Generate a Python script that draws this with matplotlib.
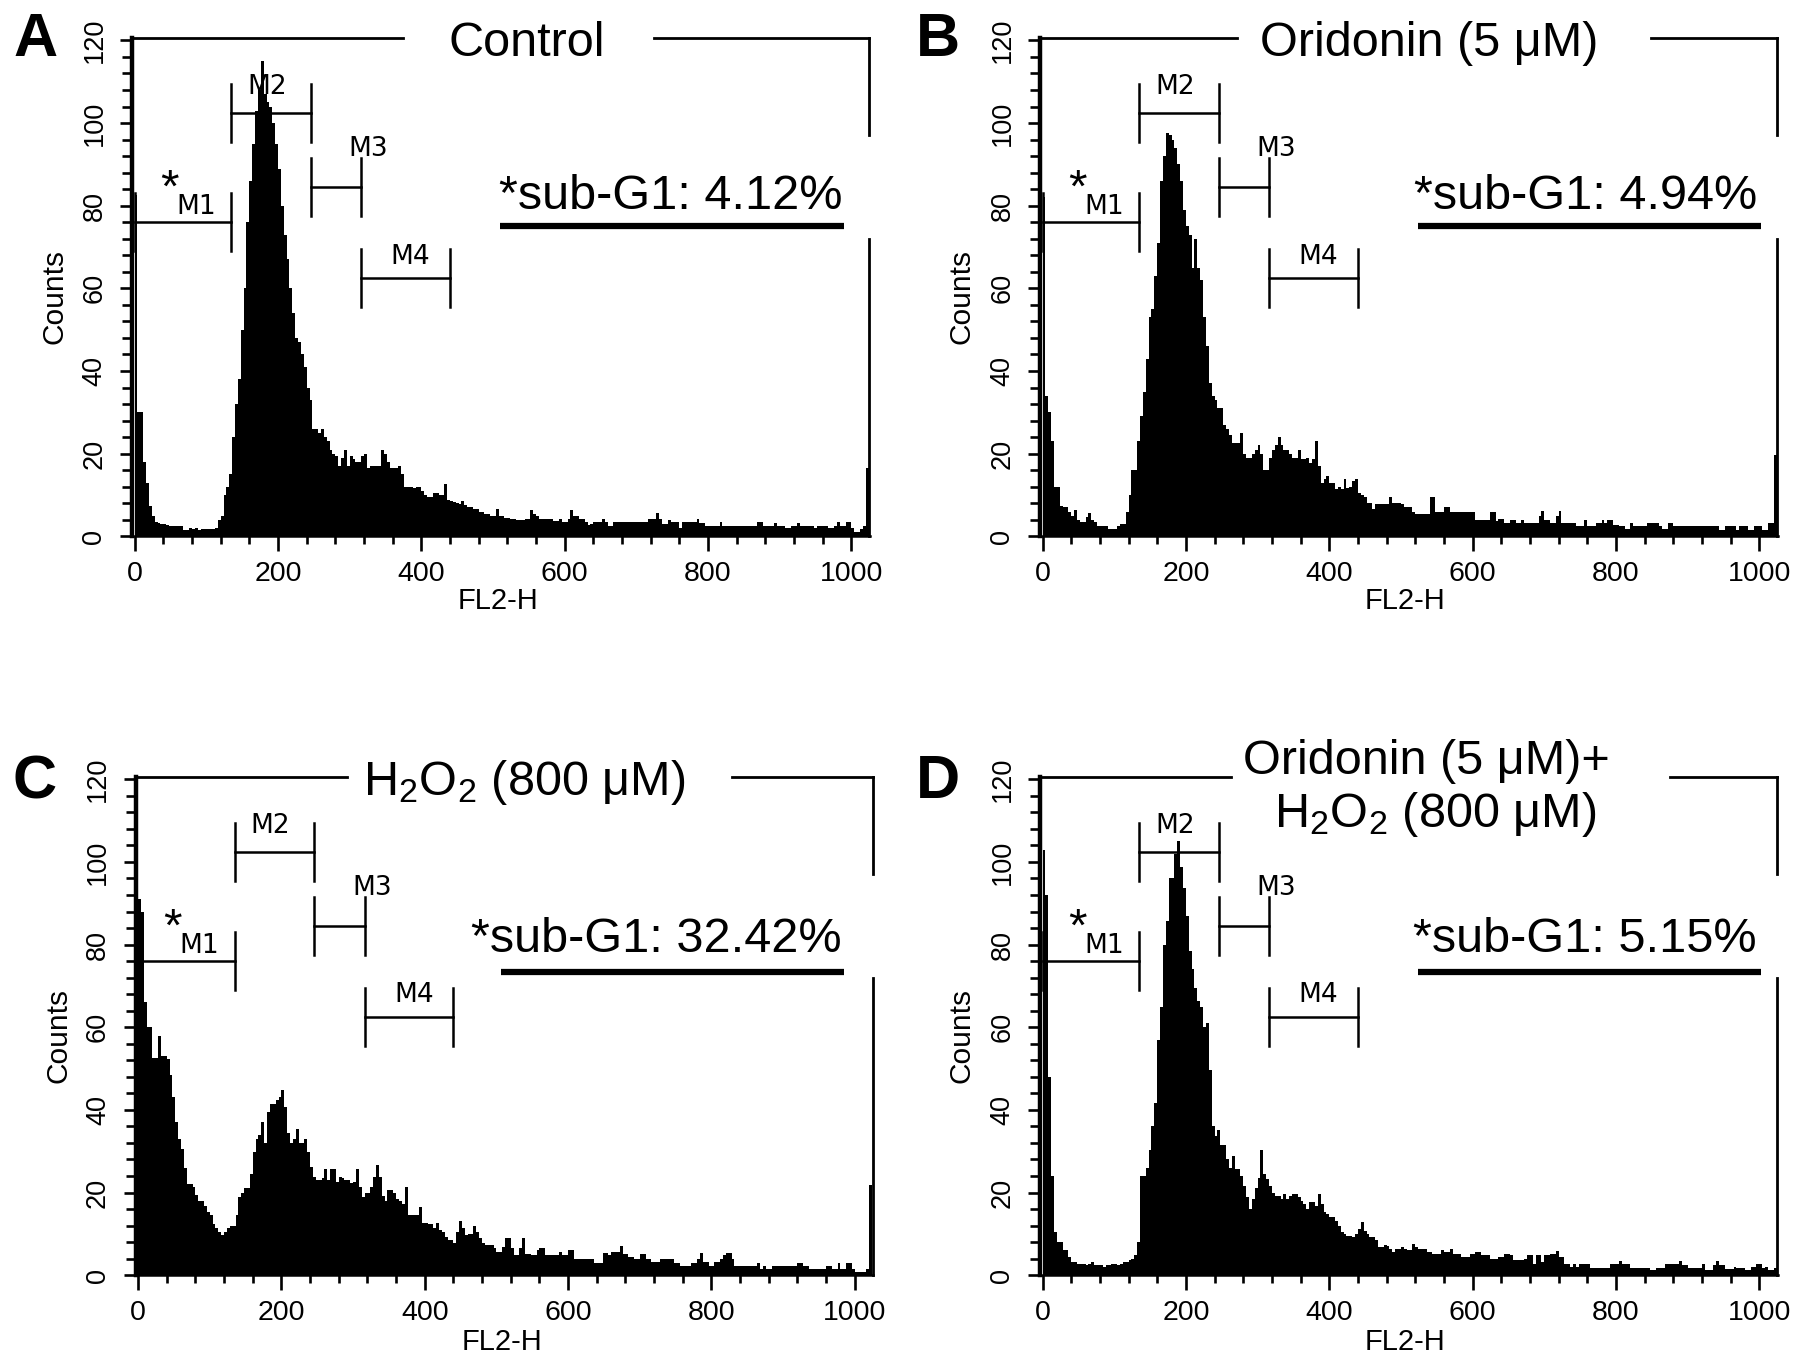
import numpy as np
import matplotlib
matplotlib.use('Agg')
import matplotlib.pyplot as plt

plt.rcParams['font.family'] = ['Liberation Sans', 'DejaVu Sans']
plt.rcParams['mathtext.fontset'] = 'custom'
plt.rcParams['mathtext.rm'] = 'Liberation Sans'
plt.rcParams['mathtext.it'] = 'Liberation Sans:italic'
plt.rcParams['mathtext.bf'] = 'Liberation Sans:bold'

# FL2-H histograms, counts per 4-channel bin (channels 0..1023)
control = [
    82.6, 30, 30, 18, 13, 7.4, 5, 3.5, 3.2, 3, 3, 2.8, 2.6, 2.6, 2.4, 2.6,
    2.4, 1.6, 1.6, 2, 1.8, 2, 1.6, 1.8, 1.8, 1.8, 1.8, 1.8, 2, 4, 5, 10,
    12, 15, 24, 32, 38, 50, 60, 76, 86, 95, 103, 108, 115, 107, 105, 104,
    100, 95, 89, 80, 73, 67, 60, 54, 48, 47, 44, 41, 36, 33, 26, 26,
    25, 26, 24, 23, 21, 20, 19.5, 17, 19, 21, 17, 19.5, 18.7, 18, 18, 19.5,
    20, 16.5, 17, 17, 17, 17, 21, 20, 18, 16.5, 16.5, 16.5, 17, 15, 12, 12,
    12, 11.7, 12, 12, 11, 10, 9.6, 9.6, 10.4, 10.4, 10, 10, 12.6, 8.7, 8.5, 8.2,
    8, 7.8, 8.5, 7.5, 7, 7, 6.5, 6.5, 6, 6, 5.5, 5.5, 5, 5, 6.5, 5,
    4.8, 4.5, 4.5, 4.2, 4.2, 4, 4, 4, 4.2, 4.2, 6.3, 5.5, 5, 4.3, 4.3, 4.3,
    4.3, 4.3, 3.8, 3.8, 4.2, 3.4, 3.4, 4.3, 6.4, 5, 5, 4.2, 4.2, 3.4, 2.7, 3,
    3.4, 3.4, 3.4, 4.2, 3.4, 2.6, 2.6, 3.4, 3.4, 3.4, 3.4, 3.4, 3.4, 3.4, 3.4, 3.4,
    3.4, 3.4, 3.4, 4.2, 4.2, 4.2, 5.6, 4.2, 3, 3, 4, 3.4, 3.4, 3.4, 1.9, 3.4,
    3.5, 3.5, 3.5, 3.5, 4.2, 3.2, 3.2, 2.6, 2.6, 2.6, 2.6, 2.6, 3.4, 2.6, 2.6, 2.6,
    2.6, 2.6, 2.6, 2.6, 2.6, 2.6, 2.6, 2.6, 2.6, 3.4, 3.4, 2.6, 2.6, 2.6, 2.6, 3.2,
    2.6, 2.6, 2.6, 1.9, 1.9, 2.6, 2.6, 3.2, 2.6, 2.6, 2.6, 2.6, 2.6, 1.9, 2.6, 2.6,
    2.6, 2.6, 1.9, 1.9, 2.6, 3.4, 2.6, 2.6, 3.4, 3.4, 1.9, 1.1, 1.1, 1.8, 2.6, 16.6,
]

oridonin = [
    82, 34, 30, 23, 12, 12, 7.4, 7, 7, 6, 5, 6.4, 4, 3.4, 3.4, 4.6,
    5.6, 4, 3.4, 2.6, 2.6, 2.6, 2.6, 1.8, 1.8, 1.8, 2.4, 3, 3, 5.8, 10, 16,
    16, 23, 29, 35, 43, 53, 55, 63, 71, 86, 92, 97.6, 97, 96, 94, 90,
    86, 79, 75, 73, 65, 72, 65, 62, 53, 46, 37, 34, 33, 31, 31, 27,
    26, 24.6, 22.6, 22.6, 22.6, 25, 20, 19, 19, 20, 21, 22, 20, 16, 16, 19,
    21, 22, 24, 22, 21, 21, 20, 19, 19, 21, 18.6, 18.6, 19, 17.8, 18.6, 23,
    17, 13, 13.8, 14.6, 13, 13, 11.4, 12, 11.4, 13.8, 11.8, 12, 13.4, 13.8, 10.6, 10,
    9.4, 8, 8, 6.6, 7.8, 7.8, 7.8, 7.8, 7.8, 9.4, 8, 8, 8, 7.8, 7, 7,
    7, 5.8, 5.4, 5.4, 5.4, 5.4, 5.4, 9.4, 9.4, 6, 6, 6, 7, 7, 5.8, 5.8,
    5.8, 5.8, 6, 6, 6, 6, 6, 4, 4, 4, 4, 4, 5.8, 5.8, 3.8, 4.2,
    4.2, 3.2, 3.2, 4, 4, 3.2, 3.2, 4, 3.2, 3.2, 3.2, 3.2, 3.2, 4.8, 6.2, 4,
    4, 3.2, 3.2, 4.8, 6.2, 3.2, 3.2, 3.2, 3.2, 3.2, 2.4, 2.4, 2.4, 4, 2.6, 2.6,
    2.6, 3.2, 3.2, 4, 3.2, 4, 4, 2.8, 2.8, 2.4, 2.4, 1.8, 1.8, 3.2, 2.4, 2.4,
    2.4, 2.4, 2.4, 3.2, 3.2, 3.2, 3.2, 2.6, 1.8, 1.8, 3.2, 3.2, 2.4, 2.4, 2.4, 2.4,
    2.4, 2.4, 2.4, 2.4, 2.4, 2.4, 2.4, 2.4, 2.4, 2.4, 2.4, 2.4, 1.6, 1.6, 2.4, 2.4,
    2.4, 2.4, 1.6, 2.4, 2.4, 2.4, 1.6, 1.6, 2.4, 2.4, 2.4, 1.6, 1.6, 3.2, 3.2, 19.6,
]

h2o2 = [
    91, 88, 66, 60, 60, 52.6, 52.6, 58, 53, 53, 52.4, 48.5, 43, 37, 33, 30.6,
    26, 22, 22, 21.4, 19.4, 18, 18, 16.8, 15.3, 14.5, 12.5, 11.3, 10.5, 9.8, 10.5, 11.3,
    12, 12, 14.5, 19, 20, 21, 21, 24.6, 29.8, 33, 33.9, 37, 31.9, 39.5, 41.5, 41.5,
    42.3, 43, 44.8, 40.7, 34.3, 31.9, 33, 35.3, 31.9, 31.9, 33, 29.8, 26.2, 23.8, 23, 23,
    23.4, 25.8, 23, 25.8, 25.8, 22.6, 23.8, 23.4, 23, 23, 22.2, 22.6, 25.8, 21.4, 19, 20,
    20, 21.4, 23.8, 26.6, 23.8, 19.2, 18, 20.6, 20.6, 19.8, 18.5, 18, 17.3, 21.4, 14.5, 14.5,
    14.5, 14.5, 16.5, 12.7, 12.7, 12.5, 12.5, 11.3, 12.7, 10.9, 10.5, 9.3, 8.5, 8.5, 7.7, 10.5,
    13.1, 11.3, 9.7, 10, 10, 12, 10.5, 8.9, 7.7, 7.3, 7.3, 7.3, 6.5, 5.6, 5.6, 6.9,
    8.9, 8.9, 6.5, 4.8, 4.8, 6.5, 8.9, 5.2, 5.2, 4.8, 4.8, 6, 6.5, 6.5, 4.8, 4.8,
    4.8, 4.8, 4.8, 5.6, 4.8, 4.8, 6.2, 6.2, 3.8, 3.8, 4, 4, 4, 4, 4, 3,
    3, 3, 5.4, 5.4, 4.8, 5.6, 5.6, 5.6, 7, 5.2, 5.2, 4.4, 4.4, 4, 4, 5.2,
    5.2, 3.8, 3.8, 3.2, 3.2, 3.2, 4, 4, 4, 4, 4, 3, 3, 2.2, 2.2, 2.2,
    2.2, 3, 3, 4, 5.4, 3.2, 3.2, 2.2, 2.2, 3.2, 3.2, 4, 4.8, 5.4, 5.4, 4,
    2.2, 2.2, 2.2, 2.2, 2.2, 2.2, 2.2, 2.2, 3, 1.6, 2.2, 1.6, 1.6, 2.2, 2.2, 2.2,
    2.2, 2.2, 2.2, 2.2, 2.2, 2.2, 3, 3, 2.2, 2.2, 1.6, 1.6, 1.6, 1.6, 1.6, 1.6,
    2.2, 2.2, 1.6, 1.6, 3, 1.6, 1.6, 3, 3, 1.6, 0.8, 0.8, 0.8, 0.8, 1.6, 21.8,
]

oridonin_h2o2 = [
    103, 92, 48, 24, 10.4, 8, 8, 6, 6, 4.4, 3.2, 3.2, 2.8, 2.8, 2.8, 2.4,
    2.8, 3.2, 2.4, 2.4, 2.4, 2, 2.4, 2.4, 2.6, 2.6, 2.4, 2.6, 3.2, 3.2, 3.6, 4,
    5, 8, 24, 24, 26, 30.4, 36, 41.6, 56.8, 64.8, 80, 85.6, 96, 96, 102, 105,
    98.8, 93.6, 86.8, 78.4, 74, 69.6, 66.4, 64.8, 60, 61, 49.6, 36, 33.6, 35.2, 31.6, 31.6,
    28, 26, 28.8, 25.6, 25.6, 24, 21.6, 18.8, 16, 18.4, 21, 23.6, 30.4, 24.4, 23.2, 21.6,
    20, 19.2, 19.2, 18.4, 19.6, 18.4, 19.2, 19.6, 19.6, 18.8, 18, 17.2, 16, 17.6, 17.6, 16.8,
    19.6, 17.2, 15.2, 14.8, 14, 14, 13.2, 12, 10.4, 10, 9.6, 9.6, 9.2, 10, 11.2, 12.8,
    10.8, 10, 9.2, 9.2, 8.4, 6.8, 6.8, 7.2, 7, 6.4, 5.6, 6.4, 6.4, 6.8, 6.4, 6,
    6, 7.6, 6.8, 6.4, 6.4, 6.4, 5.6, 5.6, 5.2, 5.2, 5.2, 6, 5.6, 5.6, 6.4, 5.2,
    5.2, 5.2, 4.4, 4.4, 4.4, 5.2, 5.2, 5.6, 5.6, 4.8, 4.8, 4.8, 4, 4, 4, 4.4,
    4.4, 5.2, 5.2, 4.8, 3.6, 3.6, 3.6, 3.6, 4, 5, 5, 2.8, 4.8, 4.8, 3.2, 4.8,
    4.8, 5.2, 5.2, 5.8, 4.4, 4.4, 2.8, 2.8, 2, 2.8, 2, 2.6, 2.6, 2.6, 2.6, 1.8,
    1.8, 1.8, 1.8, 1.8, 1.8, 1.8, 2.6, 2.6, 2.6, 3.4, 2.6, 2.6, 2.6, 1.8, 1.8, 1.8,
    1.8, 1.8, 1.8, 1.8, 1.2, 1.2, 1.8, 1.8, 1.8, 2.6, 2.6, 2.6, 2.6, 2.6, 3.4, 2.4,
    2.4, 1.8, 1.8, 1.8, 1.8, 1.8, 2.6, 1.2, 1.2, 1.2, 2.4, 3.4, 2.4, 2.4, 1.6, 1.6,
    1.6, 2, 1.8, 1.8, 1.8, 1.2, 1.2, 2, 2, 2.6, 2.6, 1.8, 2, 1.2, 1.2, 1.8,
]

histograms = [control, oridonin, h2o2, oridonin_h2o2]
letters = ['A', 'B', 'C', 'D']
titles = [['Control'], ['Oridonin (5 μM)'], [r'H$_2$O$_2$ (800 μM)'],
          ['Oridonin (5 μM)+', r'H$_2$O$_2$ (800 μM)']]
subg1 = ['*sub-G1: 4.12%', '*sub-G1: 4.94%', '*sub-G1: 32.42%', '*sub-G1: 5.15%']

# CellQuest markers M1-M4 (FL2-H range and bar height)
gate_names = ['M1', 'M2', 'M3', 'M4']
gate_start = [0, 135, 246, 316]
gate_end = [135, 246, 316, 440]
gate_level = [76, 102.5, 84.5, 62.5]

# layout
rects = [[0.0738, 0.6071, 0.4109, 0.3648], [0.5796, 0.6071, 0.4109, 0.3648],
         [0.0757, 0.0658, 0.4109, 0.3648], [0.5796, 0.0658, 0.4109, 0.3648]]
title_gap = [(374, 724), (271, 849), (292, 828), (263, 876)]
title_x = [547, 540, 539, 536]
sub_x = [748, 757, 723, 757]
sub_y = [79.1, 79.1, 78.3, 78.3]
line_x = [(510, 989), (524, 1003), (506, 985), (524, 1003)]
line_y = [75.2, 75.2, 73.3, 73.3]
letter_pos = [(0.0199, 0.9705), (0.5224, 0.9705), (0.0192, 0.4266), (0.5224, 0.4266)]
xlab_pos = [(0.2776, 0.5599), (0.7827, 0.5599), (0.2795, 0.0169), (0.7827, 0.0169)]
ylab_pos = [(0.0301, 0.7825), (0.5359, 0.7825), (0.0327, 0.2411), (0.5359, 0.2411)]

label_x = [86, 185, 326, 385]
label_y = [78, 107, 92, 66]

top = 120.5
right = 1025
edges = np.arange(0, 1025, 4)

fig = plt.figure(figsize=(17.95, 13.65), dpi=100)

for k in range(4):
    ax = fig.add_axes(rects[k])
    ax.stairs(histograms[k], edges, fill=True, color='black', linewidth=0)
    ax.set_xlim(-3, right + 1)
    ax.set_ylim(0, top)

    for s in ['top', 'right']:
        ax.spines[s].set_visible(False)
    ax.spines['left'].set_linewidth(3.2)
    ax.spines['bottom'].set_linewidth(1.8)

    ax.set_xticks(range(0, 1001, 200))
    ax.set_xticks(range(0, 1021, 40), minor=True)
    ax.set_yticks(range(0, 121, 20))
    ax.set_yticks(range(0, 121, 4), minor=True)
    ax.tick_params(axis='x', which='major', length=11, width=1.9, pad=7, labelsize=20.5)
    ax.tick_params(axis='x', which='minor', length=5.5, width=1.9)
    ax.tick_params(axis='y', which='major', length=9, width=1.9, pad=9, labelsize=19.5,
                   labelrotation=90)
    ax.tick_params(axis='y', which='minor', length=7, width=1.9)
    for lab in ax.get_yticklabels():
        lab.set_va('center')

    # frame with gaps for the title and the sub-G1 text
    g0, g1 = title_gap[k]
    ax.plot([-3, g0], [top, top], color='black', lw=2, clip_on=False)
    ax.plot([g1, right], [top, top], color='black', lw=2, clip_on=False)
    ax.plot([right, right], [top, 97], color='black', lw=2, clip_on=False)
    ax.plot([right, right], [72, 0], color='black', lw=2, clip_on=False)

    if len(titles[k]) == 1:
        ax.text(title_x[k], top - 4.2, titles[k][0], ha='center', va='baseline',
                fontsize=35)
    else:
        ax.text(title_x[k], 121.4, titles[k][0], ha='center', va='baseline',
                fontsize=35, clip_on=False)
        ax.text(title_x[k] + 12, 108.4, titles[k][1], ha='center', va='baseline',
                fontsize=35)

    ax.text(sub_x[k], sub_y[k], subg1[k], ha='center', va='baseline', fontsize=35)
    ax.plot(line_x[k], [line_y[k], line_y[k]], color='black', lw=4.5,
            solid_capstyle='butt')

    # markers
    for g in range(4):
        s, e, lv = gate_start[g], gate_end[g], gate_level[g]
        ax.plot([s, e], [lv, lv], color='black', lw=1.8)
        ax.plot([s, s], [lv - 7, lv + 7], color='black', lw=1.8)
        ax.plot([e, e], [lv - 7, lv + 7], color='black', lw=1.8)
        ax.text(label_x[g], label_y[g], gate_names[g], ha='center', va='baseline',
                fontsize=19, family='DejaVu Sans')
    ax.text(48, 81.0, '*', ha='center', va='baseline', fontsize=34)

    fig.text(letter_pos[k][0], letter_pos[k][1], letters[k], ha='center', va='center',
             fontsize=44, fontweight='bold')
    fig.text(xlab_pos[k][0], xlab_pos[k][1], 'FL2-H', ha='center', va='center', fontsize=21)
    fig.text(ylab_pos[k][0], ylab_pos[k][1], 'Counts', ha='center', va='center',
             fontsize=21.5, rotation=90)

fig.savefig('out.png', dpi=100)
